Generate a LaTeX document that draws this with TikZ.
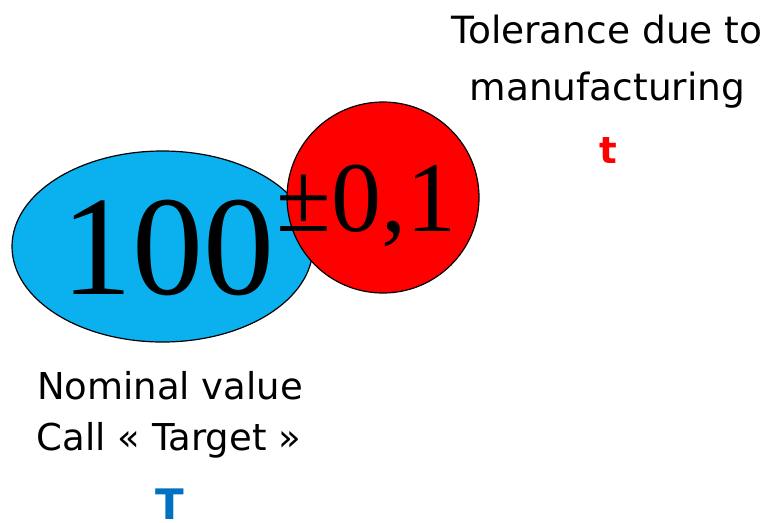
\documentclass[tikz,border=0pt]{standalone}
\usepackage{fontspec}
\setmainfont{Liberation Serif}
\newfontfamily\labelfont{DejaVu Sans}
\usetikzlibrary{shapes.geometric}
\definecolor{nomblue}{RGB}{11,177,238}
\definecolor{tolred}{RGB}{255,0,0}
\definecolor{tblue}{RGB}{0,112,192}
\begin{document}
\begin{tikzpicture}[x=1pt,y=-1pt,
  shapebox/.style={ellipse, draw=black, line width=1.2pt, inner sep=0pt},
  bigtext/.style={anchor=base west, inner sep=0pt},
  lbl/.style={anchor=base, inner sep=0pt, font=\labelfont\fontsize{37}{37}\selectfont},
  lblbold/.style={anchor=base, inner sep=0pt, font=\labelfont\bfseries\fontsize{37}{37}\selectfont}]
\useasboundingbox (0,0) rectangle (767,522);
\node[shapebox, fill=nomblue, minimum width=301pt, minimum height=191pt] (nom) at (162.5,246.5) {};
\node[shapebox, fill=tolred, minimum width=192pt, minimum height=191pt] (tol) at (383,197.5) {};
\node[bigtext, font=\fontsize{142}{142}\selectfont] (val) at (61,294.5) {100};
\node[bigtext, font=\fontsize{100}{100}\selectfont] (pm) at (276.5,231) {±0,1};
\node[lbl] (n1) at (170,399) {Nominal value};
\node[lbl] (n2) at (169,450) {Call « Target »};
\node[lblbold, text=tblue, font=\labelfont\bfseries\fontsize{42}{42}\selectfont] (n3) at (170,519.5) {T};
\node[lbl, font=\labelfont\fontsize{37.5}{37.5}\selectfont] (t1) at (607,43) {Tolerance due to};
\node[lbl, font=\labelfont\fontsize{37.5}{37.5}\selectfont] (t2) at (607.5,100) {manufacturing};
\node[lblbold, text=tolred] (t3) at (608,163) {t};
\end{tikzpicture}
\end{document}
